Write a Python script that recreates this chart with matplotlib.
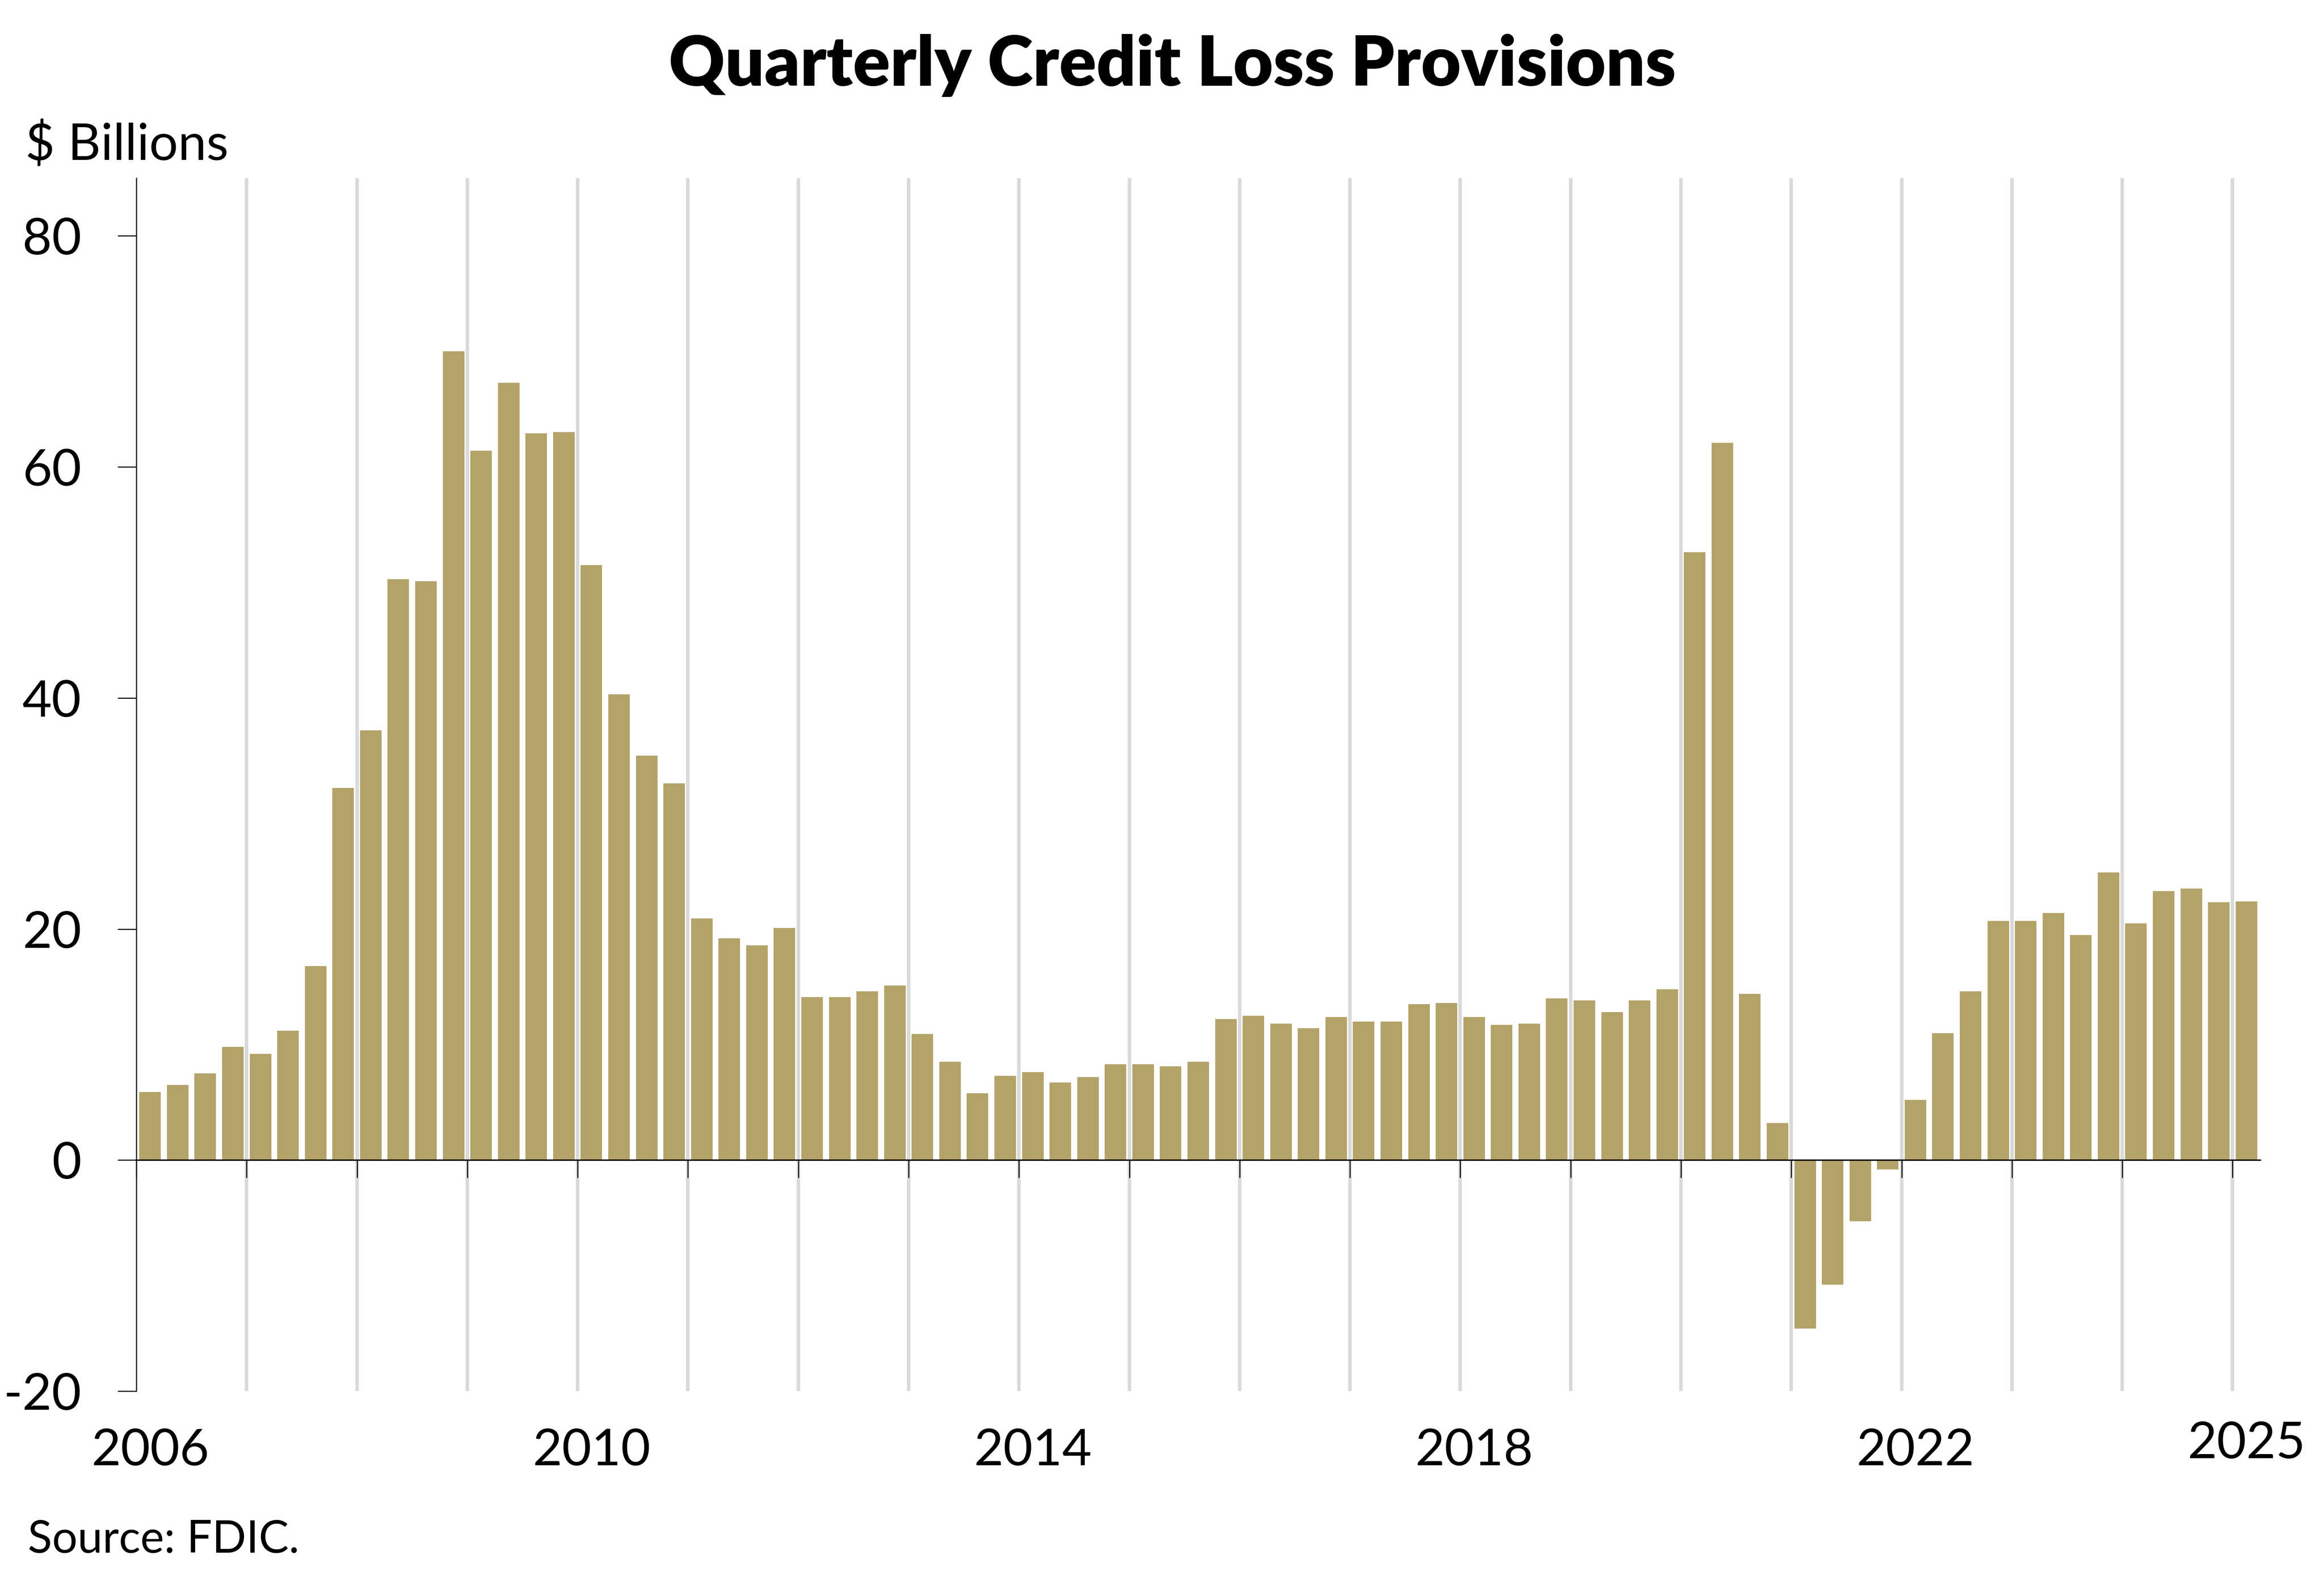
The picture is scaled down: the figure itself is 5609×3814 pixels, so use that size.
import matplotlib
matplotlib.use("Agg")
import matplotlib.pyplot as plt
import numpy as np

plt.rcParams['font.family'] = ['Lato', 'DejaVu Sans']
plt.rcParams['axes.unicode_minus'] = False

# quarterly provisions, $ billions, 2006Q1 .. 2025Q1
years = list(range(2006, 2026))
provisions = [
    5.9, 6.5, 7.5, 9.8,        # 2006
    9.2, 11.2, 16.8, 32.2,     # 2007
    37.2, 50.3, 50.1, 70.0,    # 2008
    61.4, 67.3, 62.9, 63.0,    # 2009
    51.5, 40.3, 35.0, 32.6,    # 2010
    20.9, 19.2, 18.6, 20.1,    # 2011
    14.1, 14.1, 14.6, 15.1,    # 2012
    10.9, 8.5, 5.8, 7.3,       # 2013
    7.6, 6.7, 7.2, 8.3,        # 2014
    8.3, 8.1, 8.5, 12.2,       # 2015
    12.5, 11.8, 11.4, 12.4,    # 2016
    12.0, 12.0, 13.5, 13.6,    # 2017
    12.4, 11.7, 11.8, 14.0,    # 2018
    13.8, 12.8, 13.8, 14.8,    # 2019
    52.6, 62.1, 14.4, 3.2,     # 2020
    -14.6, -10.8, -5.3, -0.8,  # 2021
    5.2, 11.0, 14.6, 20.7,     # 2022
    20.7, 21.4, 19.5, 24.9,    # 2023
    20.5, 23.3, 23.5, 22.3,    # 2024
    22.4,                      # 2025
]
label_years = [2006, 2010, 2014, 2018, 2022, 2025]
y_ticks = [-20, 0, 20, 40, 60, 80]

bar_color = '#b4a369'
grid_color = '#d9d9d9'

W, H, DPI = 5609, 3814, 300
fig = plt.figure(figsize=(W / DPI, H / DPI), dpi=DPI)
ax = fig.add_axes([329 / W, 1 - 3358 / H, (5455 - 329) / W, (3358 - 430) / H])

# bar centres: middle of each quarter
n = len(provisions)
xpos = years[0] + (np.arange(n) + 0.5) / 4
ax.bar(xpos, provisions, width=0.195, color=bar_color, zorder=3)

# year gridlines
ax.vlines(years[1:], 0, 1, transform=ax.get_xaxis_transform(),
          color=grid_color, lw=2.0, zorder=1)

ax.set_xlim(2006, 2025.25)
ax.set_ylim(-20, 85)

for s in ['top', 'right']:
    ax.spines[s].set_visible(False)
ax.spines['left'].set_linewidth(0.6)
ax.spines['bottom'].set_position(('data', 0))
ax.spines['bottom'].set_linewidth(0.8)
ax.spines['bottom'].set_zorder(4)

ax.set_xticks(years)
ax.set_xticklabels([])
ax.tick_params(axis='x', length=10.3, width=0.6, direction='out')

ax.set_yticks(y_ticks)
ax.set_yticklabels([str(v) for v in y_ticks])
ax.tick_params(axis='y', length=10.8, width=0.6, pad=21, labelsize=29.5)

# year labels sit under the Q1 bar of each year
for yr in label_years:
    yoff = -0.0611 if yr != 2025 else -0.0553
    ax.text(yr + 0.125, yoff, str(yr), transform=ax.get_xaxis_transform(),
            ha='center', va='baseline', fontsize=29.5)

fig.text(0.5045, 1 - 207 / H, 'Quarterly Credit Loss Provisions',
         ha='center', va='baseline', fontsize=40, fontweight='heavy')
fig.text(61 / W, 1 - 386 / H, '$ Billions', ha='left', va='baseline', fontsize=29.5)
fig.text(67 / W, 1 - 3748 / H, 'Source: FDIC.', ha='left', va='baseline', fontsize=26)

fig.savefig('out.png', dpi=DPI)
